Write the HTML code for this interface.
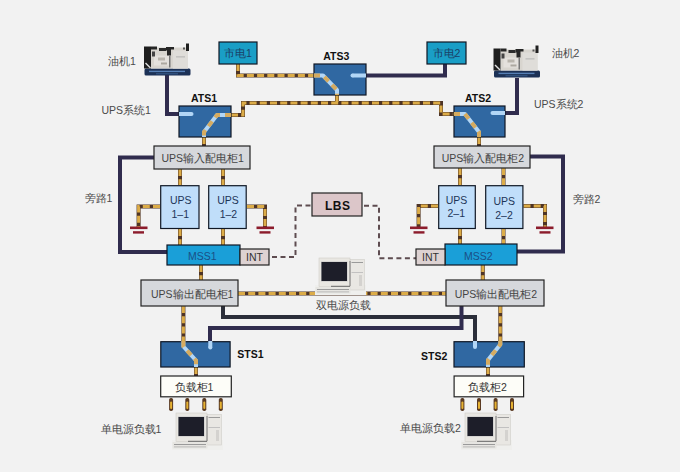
<!DOCTYPE html>
<html><head><meta charset="utf-8">
<style>
html,body{margin:0;padding:0;background:#f2f2f2;}
body{width:680px;height:472px;overflow:hidden;position:relative;font-family:"Liberation Sans", sans-serif;}
svg{position:absolute;left:0;top:0;}
text{font-family:"Liberation Sans", sans-serif;}
.lbl{font-size:10.5px;fill:#4a4a4a;}
.bold{font-size:10.5px;font-weight:bold;fill:#111;}
</style></head><body>
<svg width="680" height="472" viewBox="0 0 680 472">
<defs>
  <g id="gen">
    <rect x="0.5" y="25" width="46" height="7" rx="1.5" fill="#1c3156"/>
    <rect x="5" y="27.2" width="36" height="1.4" fill="#6a9ad6" opacity="0.75"/>
    <rect x="12" y="29.8" width="22" height="1" fill="#4a78b0" opacity="0.6"/>
    <rect x="7" y="4" width="37" height="21" fill="#d8d5cf"/>
    <rect x="29" y="7" width="15" height="18" fill="#dfddd9"/>
    <rect x="10" y="12" width="16" height="10" fill="#e4e1dd"/>
    <rect x="0" y="3" width="7" height="22" fill="#1e1e1e"/>
    <path d="M2,19 L7,24 L6,25 L1,20 Z" fill="#e0e0e0"/>
    <path d="M7,3 H13 V6 H7 Z" fill="#262626"/>
    <path d="M15,4.5 H22 V7.5 H15 Z" fill="#2c2c2c"/>
    <path d="M22,3.5 H30 V6 H27 V12 H23 V7 H22 Z" fill="#262626"/>
    <rect x="8" y="8" width="3" height="5" fill="#444"/>
    <rect x="14" y="14" width="7" height="3" fill="#b9b5ad"/>
    <rect x="17" y="19" width="6" height="2" fill="#aca8a0"/>
    <rect x="25" y="12" width="1.5" height="12" fill="#777"/>
    <rect x="42" y="0" width="3" height="7.5" fill="#202020"/>
    <rect x="39" y="4" width="2" height="2" fill="#555"/>
    <rect x="32" y="13" width="9" height="0.8" fill="#aaa"/>
  </g>
  <g id="pc">
    <rect x="-4" y="27" width="51" height="10" fill="#efefed"/>
    <rect x="31" y="1.5" width="14.5" height="30.5" fill="#e9e7e3" stroke="#cfcdc8" stroke-width="0.6"/>
    <rect x="32.5" y="4" width="11.5" height="1" fill="#9a9a9a"/>
    <rect x="32.5" y="14" width="11.5" height="0.8" fill="#b8b8b8"/>
    <rect x="40" y="17" width="3" height="11" fill="#d4d2cf"/>
    <rect x="0" y="0" width="31" height="28.5" fill="#e9e7e2" stroke="#d0cec8" stroke-width="0.6"/>
    <rect x="2" y="3.5" width="26.5" height="20" fill="#c4c4c4"/>
    <rect x="2.5" y="4" width="25.5" height="19" fill="#1d1e29"/>
    <rect x="30.5" y="3" width="1" height="25" fill="#7a7a7a"/>
    <rect x="12" y="27.8" width="19" height="1" fill="#666"/>
    <rect x="-3.5" y="29" width="35" height="6.5" fill="#e6e5e1"/>
    <rect x="-2" y="31" width="32" height="1" fill="#9a9a9a"/>
    <rect x="-2" y="33.5" width="32" height="0.8" fill="#b0b0b0"/>
  </g>
</defs>

<!-- ===== orange power lines ===== -->
<g fill="none" stroke-linejoin="miter" stroke-width="4">
  <g stroke="#4e3426">
    <path d="M238,64 V75.5 H314"/>
    <path d="M231,115 H243 V103 H441 V114 H454"/>
    <path d="M337,95 V103"/>
    <path d="M204,137 V146"/>
    <path d="M479,137 V146"/>
    <path d="M180,169 V185 M223,169 V185 M460,168 V185 M503.5,168 V185"/>
    <path d="M180,229 V245 M223,229 V245 M460,229 V244 M503.5,229 V244"/>
    <path d="M160,206.5 H138.6 V227 M247,206.5 H265 V227 M438,206 H418.6 V227 M523.5,206 H545 V227"/>
    <path d="M201,265 V280 M482.8,265 V280"/>
    <path d="M238,293.5 H446"/>
    <path d="M183.4,306 V341 M500.3,306 V341"/>
    <path d="M196,367 V376 M488,367 V376"/>
  </g>
  <g stroke="#dcac48" stroke-width="3" stroke-dasharray="7 3.2">
    <path d="M238,64 V75.5 H314"/>
    <path d="M231,115 H243 V103 H441 V114 H454"/>
    <path d="M337,95 V103"/>
    <path d="M204,137 V146"/>
    <path d="M479,137 V146"/>
    <path d="M180,169 V185 M223,169 V185 M460,168 V185 M503.5,168 V185"/>
    <path d="M180,229 V245 M223,229 V245 M460,229 V244 M503.5,229 V244"/>
    <path d="M160,206.5 H138.6 V227 M247,206.5 H265 V227 M438,206 H418.6 V227 M523.5,206 H545 V227"/>
    <path d="M201,265 V280 M482.8,265 V280"/>
    <path d="M238,293.5 H446"/>
    <path d="M183.4,306 V341 M500.3,306 V341"/>
    <path d="M196,367 V376 M488,367 V376"/>
  </g>
</g>

<!-- ===== navy lines ===== -->
<g fill="none" stroke="#302c4e" stroke-width="4" stroke-linejoin="miter">
  <path d="M167,75 V114 H179"/>
  <path d="M517,78 V113 H505"/>
  <path d="M366,75.5 H445 V64"/>
  <path d="M154,157.5 H120 V252 H167"/>
  <path d="M530,156.5 H563 V251.5 H517"/>
  <path d="M223,306 V317 H475 V341" stroke="#2b2e3a"/>
  <path d="M461.5,306 V328 H210 V341"/>
</g>

<!-- ===== dashed LBS lines ===== -->
<g fill="none" stroke="#5e4c50" stroke-width="2" stroke-dasharray="5 3.5">
  <path d="M272,257 H295.5 V205.5 H312"/>
  <path d="M364,205.7 H379 V258.3 H416"/>
</g>

<!-- ===== ground symbols ===== -->
<g fill="#8c1c2c">
  <rect x="130" y="226.5" width="17.5" height="2.6"/><rect x="133" y="231.2" width="11" height="2.4"/>
  <rect x="256.5" y="226.5" width="17.5" height="2.6"/><rect x="259.5" y="231.2" width="11" height="2.4"/>
  <rect x="410" y="226.5" width="17.5" height="2.6"/><rect x="413.5" y="231.2" width="11" height="2.4"/>
  <rect x="536" y="226.5" width="17.5" height="2.6"/><rect x="539.5" y="231.2" width="11" height="2.4"/>
</g>

<!-- ===== boxes ===== -->
<g stroke="#0f1724" stroke-width="1.2">
  <rect x="219" y="42" width="38" height="22" fill="#1a9ec6"/>
  <rect x="427" y="42" width="39" height="22" fill="#1a9ec6"/>
  <rect x="314" y="64" width="52" height="31" fill="#3068a2"/>
  <rect x="179" y="106" width="52" height="31" fill="#3068a2"/>
  <rect x="454" y="106" width="51" height="31" fill="#3068a2"/>
  <rect x="154" y="146" width="96" height="23" fill="#d6d8dc" stroke="#222"/>
  <rect x="434" y="146" width="96" height="22" fill="#d6d8dc" stroke="#222"/>
  <rect x="160.7" y="185.7" width="38.3" height="42.8" fill="#c0defa"/>
  <rect x="208.7" y="185.7" width="37.5" height="42.8" fill="#c0defa"/>
  <rect x="438.7" y="185.7" width="36.6" height="42.8" fill="#c0defa"/>
  <rect x="485.7" y="185.7" width="37.2" height="42.8" fill="#c0defa"/>
  <rect x="312" y="193" width="50" height="23" fill="#dcc6c9" stroke="#222"/>
  <rect x="167" y="245" width="73" height="20" fill="#1a9fd8"/>
  <rect x="240" y="249" width="29" height="16" fill="#ddd2d2" stroke="#222"/>
  <rect x="445" y="244" width="72" height="21" fill="#1a9fd8"/>
  <rect x="416" y="249" width="29" height="16" fill="#ddd2d2" stroke="#222"/>
  <rect x="141" y="280" width="97" height="26" fill="#d6d8dc" stroke="#222"/>
  <rect x="446" y="280" width="98" height="26" fill="#d6d8dc" stroke="#222"/>
  <rect x="160.8" y="341.7" width="69.3" height="25.3" fill="#3068a2"/>
  <rect x="454" y="341.7" width="70.3" height="25.3" fill="#3068a2"/>
  <rect x="160.7" y="376" width="70.6" height="20.8" fill="#fdfdf8" stroke="#222"/>
  <rect x="454.1" y="376" width="69.5" height="20.8" fill="#fdfdf8" stroke="#222"/>
</g>

<!-- ===== switch internals ===== -->
<g fill="none" stroke-width="4" stroke-linejoin="round">
  <g stroke="#b2d6f6">
    <path d="M314,75.5 H323 L337,90 V95"/>
    <path d="M352.5,75.5 H366"/><circle cx="352.5" cy="75.5" r="2" stroke="none" fill="#b2d6f6"/>
    <path d="M231,115 H217 L204,132 V137"/>
    <path d="M179,114 H191.5"/><circle cx="191.5" cy="114" r="2" stroke="none" fill="#b2d6f6"/>
    <path d="M454,114 H465 L479,132 V137"/>
    <path d="M492.5,113 H505"/><circle cx="492.5" cy="113" r="2" stroke="none" fill="#b2d6f6"/>
    <path d="M183.4,341 V346.5 L196,360.5 V367"/>
    <path d="M210.3,341 V347.5"/><circle cx="210.3" cy="347.5" r="2" stroke="none" fill="#b2d6f6"/>
    <path d="M500.3,341 V344.5 L488,360 V367"/>
    <path d="M475,341 V347"/><circle cx="475" cy="347" r="2" stroke="none" fill="#b2d6f6"/>
  </g>
  <g stroke="#dca446" stroke-dasharray="6 5" opacity="0.85">
    <path d="M314,75.5 H323 L337,90 V95"/>
    <path d="M231,115 H217 L204,132 V137"/>
    <path d="M454,114 H465 L479,132 V137"/>
    <path d="M183.4,341 V346.5 L196,360.5 V367"/>
    <path d="M500.3,341 V344.5 L488,360 V367"/>
  </g>
</g>

<!-- ===== load legs ===== -->
<g>
  <rect x="169.1" y="398" width="4" height="13" rx="1.8" fill="#5a3a22"/><rect x="170.1" y="401.5" width="2" height="7.5" rx="1" fill="#e6b232"/>
  <rect x="185.3" y="398" width="4" height="13" rx="1.8" fill="#5a3a22"/><rect x="186.3" y="401.5" width="2" height="7.5" rx="1" fill="#e6b232"/>
  <rect x="202.3" y="398" width="4" height="13" rx="1.8" fill="#5a3a22"/><rect x="203.3" y="401.5" width="2" height="7.5" rx="1" fill="#e6b232"/>
  <rect x="218.8" y="398" width="4" height="13" rx="1.8" fill="#5a3a22"/><rect x="219.8" y="401.5" width="2" height="7.5" rx="1" fill="#e6b232"/>
  <rect x="460.4" y="398" width="4" height="13" rx="1.8" fill="#5a3a22"/><rect x="461.4" y="401.5" width="2" height="7.5" rx="1" fill="#e6b232"/>
  <rect x="477.0" y="398" width="4" height="13" rx="1.8" fill="#5a3a22"/><rect x="478.0" y="401.5" width="2" height="7.5" rx="1" fill="#e6b232"/>
  <rect x="493.6" y="398" width="4" height="13" rx="1.8" fill="#5a3a22"/><rect x="494.6" y="401.5" width="2" height="7.5" rx="1" fill="#e6b232"/>
  <rect x="510.0" y="398" width="4" height="13" rx="1.8" fill="#5a3a22"/><rect x="511.0" y="401.5" width="2" height="7.5" rx="1" fill="#e6b232"/>
</g>

<!-- ===== icons ===== -->
<use href="#gen" x="144" y="43.5"/>
<use href="#gen" x="493.5" y="45.5"/>
<use href="#pc" x="319" y="258"/>
<use href="#pc" x="176" y="413"/>
<use href="#pc" x="465" y="413"/>

<!-- ===== text ===== -->
<g class="lbl" dominant-baseline="central">
  <text x="108" y="60.5">油机1</text>
  <text x="551.5" y="53">油机2</text>
  <text x="101.5" y="110">UPS系统1</text>
  <text x="534" y="104">UPS系统2</text>
  <text x="84.5" y="198">旁路1</text>
  <text x="572.5" y="198.5">旁路2</text>
  <text x="316" y="304.5">双电源负载</text>
  <text x="100.5" y="428.5">单电源负载1</text>
  <text x="400" y="428">单电源负载2</text>
</g>
<g class="bold" text-anchor="middle" dominant-baseline="central">
  <text x="204" y="97.5">ATS1</text>
  <text x="336.3" y="56">ATS3</text>
  <text x="478" y="98">ATS2</text>
  <text x="250.5" y="354.3">STS1</text>
  <text x="434.2" y="356.3">STS2</text>
  <text x="337.7" y="205.7" style="font-size:12px;letter-spacing:0.4px">LBS</text>
</g>
<g text-anchor="middle" dominant-baseline="central" style="font-size:10.5px">
  <text x="238" y="53" fill="#1b3f66">市电1</text>
  <text x="446.5" y="53" fill="#1b3f66">市电2</text>
  <text x="202.7" y="158.2" fill="#444">UPS输入配电柜1</text>
  <text x="483" y="158.2" fill="#444">UPS输入配电柜2</text>
  <text x="180.7" y="200" fill="#1d3558">UPS</text>
  <text x="180.3" y="213.8" fill="#1d3558">1–1</text>
  <text x="228" y="200.3" fill="#1d3558">UPS</text>
  <text x="228.4" y="214" fill="#1d3558">1–2</text>
  <text x="456.5" y="199.8" fill="#1d3558">UPS</text>
  <text x="456.3" y="213.1" fill="#1d3558">2–1</text>
  <text x="504.2" y="200.5" fill="#1d3558">UPS</text>
  <text x="504" y="214.6" fill="#1d3558">2–2</text>
  <text x="202.3" y="256" fill="#1b4f86">MSS1</text>
  <text x="478.4" y="256" fill="#1b4f86">MSS2</text>
  <text x="254.5" y="257" fill="#333">INT</text>
  <text x="430.5" y="257" fill="#333">INT</text>
  <text x="192.2" y="294.3" fill="#444">UPS输出配电柜1</text>
  <text x="496" y="294.3" fill="#444">UPS输出配电柜2</text>
  <text x="194" y="387" fill="#333">负载柜1</text>
  <text x="487.4" y="387.1" fill="#333">负载柜2</text>
</g>
</svg>
</body></html>
